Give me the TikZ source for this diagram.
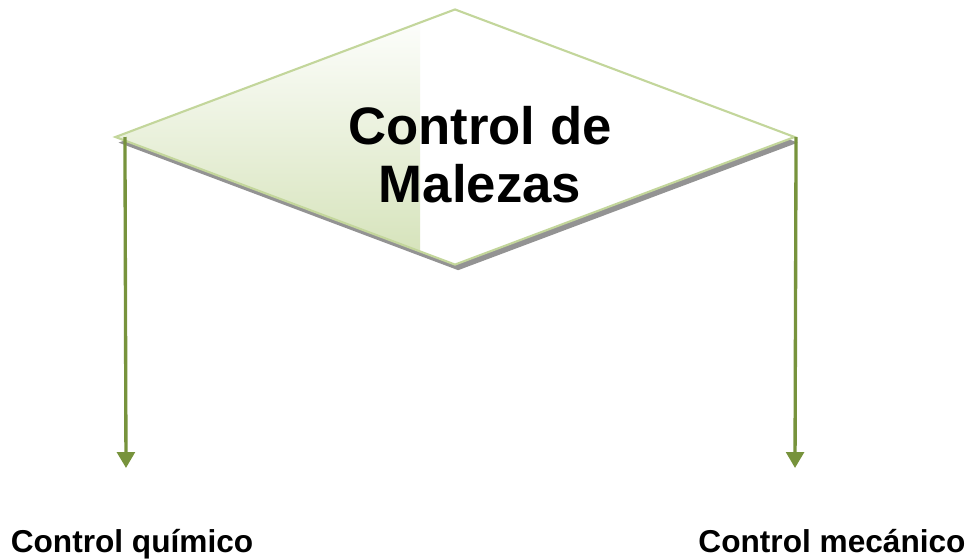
\documentclass[tikz,border=0pt]{standalone}
\usepackage{fontspec}
\setmainfont{Liberation Sans}
\usetikzlibrary{arrows.meta,shapes.geometric,shadows,positioning}
\definecolor{leafline}{RGB}{195,214,155}
\definecolor{leaffill}{RGB}{212,226,184}
\definecolor{stemgreen}{RGB}{119,147,60}
\tikzset{
  ramal/.style={-{Triangle[width=10pt,length=9pt]}, stemgreen, line width=1.9pt},
  rotulo/.style={font=\bfseries\fontsize{18}{20}\selectfont, inner sep=0pt, anchor=base}
}

\begin{document}
\begin{tikzpicture}[x=0.02cm, y=-0.02cm]
  \useasboundingbox (0,0) rectangle (977,558);

  \node[diamond, draw=leafline, line width=1.2pt, fill=white, inner sep=0pt,
        minimum width=680*0.02cm, minimum height=256*0.02cm,
        drop shadow={shadow xshift=1.8pt, shadow yshift=-3.2pt, fill=gray!85, opacity=1},
        path picture={\shade[top color=white, bottom color=leaffill]
          (-340,-129) rectangle (-35,129);}]
        at (455,137) (malezas) {};
  \node[align=center, font=\bfseries\fontsize{30}{33}\selectfont]
        at (480,155) (titulo) {Control de\\Malezas};

  \coordinate (finq) at (126,468);
  \coordinate (finm) at (795,468);
  \draw[ramal] ([xshift=0.22cm]malezas.west) -- (finq);
  \draw[ramal] (malezas.east) -- (finm);

  \node[rotulo] at (132,552) (quimico) {Control químico};
  \node[rotulo] at (832,552) (mecanico) {Control mecánico};
\end{tikzpicture}
\end{document}
